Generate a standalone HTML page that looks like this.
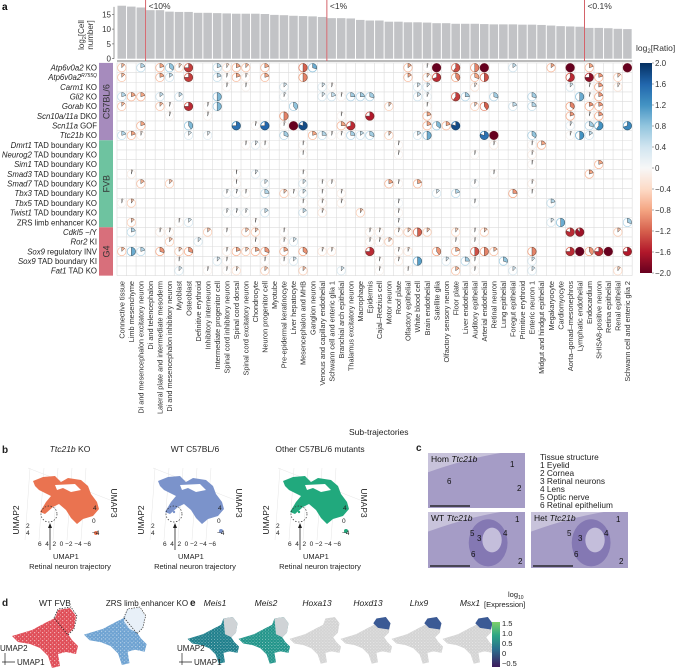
<!DOCTYPE html>
<html><head><meta charset="utf-8">
<style>
html,body{margin:0;padding:0;background:#fff;}
svg{display:block;font-family:"Liberation Sans",Arial,sans-serif;}
</style></head>
<body>
<svg id="fig" width="685" height="670" viewBox="0 0 685 670" xmlns="http://www.w3.org/2000/svg">
<g id="pa"></g>
<g id="pb"></g>
</svg>
<script>
// ---------- DATA ----------
const cellTypes = ["Connective tissue","Limb mesenchyme","Di and mesencephalon excitatory neuron","Di and telencephalon","Lateral plate and intermediate mesoderm","Di and mesencephalon inhibitory neuron","Myoblast","Osteoblast","Definitive erythroid","Inhibitory interneuron","Intermediate progenitor cell","Spinal cord inhibitory neuron","Spinal cord dorsal","Spinal cord excitatory neuron","Chondrocyte","Neuron progenitor cell","Myotube","Pre-epidermal keratinocyte","Liver hepatocyte","Mesencephalon and MHB","Ganglion neuron","Venous and capillary endothelial","Schwann cell and enteric glia 1","Branchial arch epithelial","Thalamus excitatory neuron","Macrophage","Epidermis","Cajal–Retzius cell","Motor neuron","Roof plate","Olfactory epithelial","White blood cell","Brain endothelial","Satellite glia","Olfactory sensory neuron","Floor plate","Liver endothelial","Auditory epithelial","Arterial endothelial","Retinal neuron","Lung epithelial","Foregut epithelial","Primitive erythroid","Enteric neuron 1","Midgut and hindgut epithelial","Megakaryocyte","Cardiomyocyte","Aorta–gonad–mesonephros","Lymphatic endothelial","Endocardium","SHISA8-positive neuron","Retina epithelial","Renal epithelial","Schwann cell and enteric glia 2"];
const cellCounts = [17.9,17.6,17.3,16.4,16.4,15.9,15.8,15.8,15.5,15.5,15.4,15.3,15.2,15.2,15.2,15.1,14.8,14.7,14.5,14.4,14.3,14.1,13.7,13.7,13.6,13.1,12.9,12.9,12.5,12.5,12.3,12.3,12.2,12.0,12.0,11.8,11.8,11.8,11.7,11.6,11.6,11.6,11.5,11.5,11.4,11.2,11.0,10.9,10.8,10.4,10.4,10.3,10.1,10.0];
const countTicks = [0,5,10,15];
const thresholdCols = [3,22,49];
const thresholdLabels = ["<10%","<1%","<0.1%"];
const mutantGenes = ["Atp6v0a2","Atp6v0a2","Carm1","Gli2","Gorab","Scn10a/11a","Scn11a","Ttc21b","Dmrt1","Neurog2","Sim1","Smad3","Smad7","Tbx3","Tbx5","Twist1","","Cdkl5","Ror2","Sox9","Sox9","Fat1"];
const mutantSuffix = [" KO","R755Q"," KO"," KO"," KO"," DKO"," GOF"," KO"," TAD boundary KO"," TAD boundary KO"," TAD boundary KO"," TAD boundary KO"," TAD boundary KO"," TAD boundary KO"," TAD boundary KO"," TAD boundary KO","ZRS limb enhancer KO"," −/Y"," KI"," regulatory INV"," TAD boundary KI"," TAD KO"];
const groups = ["C57BL/6","FVB","G4"];
const groupStart = [0,8,17];
const groupEnd = [8,17,22];
const ratioTicks = [2.0,1.6,1.2,0.8,0.4,0,-0.4,-0.8,-1.2,-1.6,-2.0];
// marks: [row, col, log2 ratio, fraction]
const marks = [
[0,0,-0.7,0.12],[0,2,0.6,0.2],[0,4,-0.8,0.2],[0,5,0.8,0.35],[0,6,-0.5,0.1],[0,7,-1.4,0.75],[0,10,0.6,0.2],[0,11,-0.4,0.08],[0,12,-0.8,0.2],[0,13,-0.7,0.12],[0,15,-0.8,0.2],[0,19,-1.2,0.5],[0,20,1.0,0.3],
[0,30,-0.8,0.15],[0,32,-0.1,0.04],[0,33,-2.0,1],[0,35,-1.3,0.6],[0,37,-1.0,0.5],[0,38,-2.0,1],[0,41,0.5,0.15],[0,45,-0.8,0.15],[0,47,-2.0,1],[0,49,-0.8,0.2],[0,53,-2.0,1],
[1,0,-0.7,0.12],[1,4,-0.8,0.2],[1,5,0.5,0.15],[1,7,-1.4,0.75],[1,10,0.6,0.2],[1,11,-0.1,0.04],[1,12,-0.8,0.2],[1,13,-0.2,0.06],[1,15,-0.8,0.2],[1,19,-1.0,0.5],
[1,30,-0.8,0.15],[1,32,-0.6,0.1],[1,33,-1.5,0.7],[1,35,-1.0,0.4],[1,37,-0.8,0.3],[1,38,-1.3,0.5],[1,47,-1.5,0.6],[1,49,-1.8,0.75],[1,50,-0.9,0.2],[1,52,-0.6,0.12],
[2,11,-0.1,0.05],[2,13,-0.1,0.04],[2,17,0.4,0.12],[2,21,0.4,0.12],[2,22,-0.1,0.05],[2,31,0.4,0.12],[2,32,0.4,0.12],[2,37,-0.3,0.08],[2,47,0.4,0.12],[2,49,-0.1,0.05],[2,50,-0.9,0.2],[2,52,-0.3,0.08],
[3,0,0.6,0.2],[3,1,-0.8,0.2],[3,2,-0.8,0.2],[3,4,0.5,0.15],[3,6,0.5,0.15],[3,10,0.9,0.5],[3,17,0.2,0.06],[3,21,0.4,0.12],[3,22,0.5,0.2],[3,23,-0.1,0.04],[3,24,0.7,0.25],[3,25,0.7,0.25],[3,26,0.7,0.3],[3,31,0.5,0.15],[3,32,0.2,0.06],[3,35,-1.4,0.6],[3,36,0.7,0.25],[3,39,0.7,0.3],[3,43,0.7,0.3],[3,48,1.0,0.5],[3,49,-0.1,0.05],[3,50,-0.9,0.2],
[4,0,-0.7,0.12],[4,4,-0.7,0.12],[4,5,-0.1,0.05],[4,7,-1.5,0.75],[4,9,-0.1,0.05],[4,10,0.9,0.5],[4,18,0.8,0.4],[4,28,-0.6,0.1],[4,32,-0.1,0.04],[4,37,-0.6,0.1],[4,38,-1.2,0.4],[4,41,0.5,0.2],[4,43,0.6,0.25],[4,47,-1.0,0.35],[4,49,-0.9,0.2],[4,50,-0.9,0.2],
[5,5,-0.1,0.05],[5,9,-0.1,0.05],[5,17,-1.0,0.5],[5,23,-0.1,0.04],[5,26,-1.6,0.75],[5,32,-0.8,0.2],[5,47,-0.9,0.2],[5,49,-0.1,0.05],[5,50,-0.9,0.2],
[6,2,-0.8,0.2],[6,7,0.9,0.4],[6,12,1.5,0.75],[6,14,-0.1,0.05],[6,15,1.6,0.75],[6,17,-0.1,0.05],[6,18,-2.0,1],[6,19,1.8,0.8],[6,23,-0.8,0.25],[6,24,-1.5,0.7],[6,32,-0.8,0.2],[6,33,0.9,0.35],[6,34,-0.8,0.2],[6,35,1.8,0.8],[6,47,0.3,0.08],[6,49,0.7,0.3],[6,50,1.2,0.6],[6,53,1.3,0.7],
[7,0,0.6,0.2],[7,1,-0.8,0.2],[7,2,-0.2,0.06],[7,7,0.4,0.12],[7,9,0.3,0.1],[7,17,0.7,0.3],[7,20,-0.8,0.2],[7,21,0.6,0.25],[7,22,-0.1,0.05],[7,23,-0.1,0.05],[7,24,0.7,0.25],[7,25,0.5,0.15],[7,26,0.7,0.3],[7,28,-0.6,0.1],[7,31,0.5,0.15],[7,32,1.0,0.5],[7,38,1.5,0.8],[7,39,-2.0,1],[7,43,0.8,0.35],[7,47,-0.1,0.05],[7,48,1.2,0.5],[7,49,0.5,0.15],
[8,13,-0.1,0.04],[8,14,0.3,0.1],[8,15,-0.1,0.04],[8,19,-0.1,0.04],[8,29,-0.1,0.04],[8,39,-0.2,0.05],[8,43,-0.1,0.04],[8,44,-0.8,0.2],
[9,19,-0.1,0.03],[9,29,-0.1,0.04],[9,37,-0.1,0.04],[9,43,-0.2,0.05],
[10,43,-0.1,0.04],[10,50,-0.8,0.2],
[11,1,-0.2,0.05],[11,12,-0.1,0.03],[11,14,0.3,0.1],[11,19,-0.1,0.04],[11,39,-0.1,0.04],[11,49,-0.8,0.2],
[12,2,-0.7,0.15],[12,5,-0.6,0.12],[12,12,-0.1,0.03],[12,15,0.4,0.12],[12,19,0.4,0.12],[12,21,-0.1,0.04],[12,22,-0.2,0.05],[12,28,-0.8,0.2],[12,29,-0.1,0.04],[12,31,-0.8,0.2],[12,37,0.2,0.05],[12,43,-0.2,0.05],
[13,11,0.2,0.06],[13,12,0.2,0.06],[13,13,-0.1,0.04],[13,15,0.6,0.25],[13,17,-0.6,0.12],[13,18,-0.1,0.04],[13,19,0.4,0.12],[13,21,-0.1,0.04],[13,23,-0.2,0.05],[13,33,0.4,0.12],[13,35,0.6,0.2],[13,41,-0.9,0.25],[13,43,-0.1,0.04],
[14,0,-0.1,0.05],[14,1,-0.6,0.1],[14,19,-0.1,0.04],[14,21,-0.2,0.05],[14,23,-0.2,0.05],[14,29,0.1,0.04],[14,37,0.1,0.04],[14,45,0.6,0.2],
[15,11,0.2,0.06],[15,12,0.2,0.06],[15,13,0.2,0.06],[15,15,0.5,0.15],[15,19,0.5,0.15],[15,21,-0.3,0.06],[15,25,-0.6,0.1],[15,29,-0.1,0.04],
[16,1,-0.6,0.12],[16,6,-0.1,0.04],[16,7,0.4,0.12],[16,14,-0.1,0.04],[16,29,0.1,0.04],[16,45,0.4,0.12],[16,46,1.0,0.5],[16,53,0.7,0.3],
[17,1,0.6,0.2],[17,4,-0.2,0.05],[17,5,-0.2,0.05],[17,9,-0.6,0.12],[17,11,-0.1,0.04],[17,13,-0.6,0.12],[17,14,-0.6,0.12],[17,17,-0.1,0.04],[17,26,-0.2,0.05],[17,27,-0.2,0.05],[17,29,-0.3,0.06],[17,30,-0.6,0.12],[17,31,-1.2,0.5],[17,32,-0.6,0.12],[17,35,-0.5,0.1],[17,37,-0.1,0.04],[17,38,-0.6,0.12],[17,47,-1.5,0.8],[17,48,-1.7,0.9],[17,52,-0.6,0.12],
[18,5,-0.6,0.12],[18,8,0.4,0.12],[18,14,-0.1,0.04],[18,17,-0.2,0.05],[18,18,0.4,0.12],[18,26,-0.2,0.05],[18,27,-0.2,0.05],[18,28,-0.6,0.12],[18,35,-0.1,0.04],[18,37,-0.1,0.04],
[19,0,-0.7,0.12],[19,1,1.0,0.5],[19,2,0.6,0.2],[19,4,-0.9,0.3],[19,6,-0.6,0.12],[19,7,-0.9,0.3],[19,11,-0.2,0.05],[19,12,-0.8,0.2],[19,13,-0.6,0.12],[19,14,-0.8,0.2],[19,15,-0.9,0.3],[19,17,-0.8,0.2],[19,19,-0.9,0.35],[19,21,-0.3,0.06],[19,22,-0.3,0.06],[19,26,-1.5,0.75],[19,29,-0.2,0.05],[19,30,-0.3,0.06],[19,33,-0.9,0.4],[19,35,-0.8,0.2],[19,37,-1.3,0.5],[19,38,-1.0,0.5],[19,39,-0.7,0.15],[19,43,-1.0,0.5],[19,47,-1.5,0.75],[19,48,-2.0,1],[19,49,-0.9,0.4],[19,50,-1.5,0.75],[19,51,-2.0,1],[19,53,-1.6,0.75],
[20,6,-0.1,0.04],[20,10,0.4,0.12],[20,11,-0.1,0.04],[20,15,-0.1,0.04],[20,17,-0.1,0.04],[20,18,0.4,0.12],[20,27,-0.1,0.04],[20,29,-0.2,0.05],[20,31,1.1,0.5],[20,34,0.4,0.12],[20,36,0.7,0.25],[20,37,-0.1,0.04],[20,40,0.8,0.3],[20,43,0.4,0.12],
[21,6,0.4,0.12],[21,9,-0.1,0.04],[21,11,-0.1,0.04],[21,12,-0.4,0.08],[21,15,-0.6,0.12],[21,19,-0.6,0.12],[21,23,0.4,0.12],[21,27,-0.1,0.04],[21,30,-0.1,0.04],[21,35,-0.7,0.15],[21,37,-0.1,0.04],[21,41,0.4,0.12],[21,43,0.4,0.12],[21,52,-0.5,0.1]
];
const exprTicks = [1.5,1.0,0.5,0,-0.5];
const exprGenes = ["Meis1","Meis2","Hoxa13","Hoxd13","Lhx9","Msx1"];
const legendItems = ["Tissue structure","1 Eyelid","2 Cornea","3 Retinal neurons","4 Lens","5 Optic nerve","6 Retinal epithelium"];

// ---------- HELPERS ----------
const NS="http://www.w3.org/2000/svg";
function mk(tag,attrs,parent){const e=document.createElementNS(NS,tag);for(const k in attrs)e.setAttribute(k,attrs[k]);(parent||document.getElementById('pa')).appendChild(e);return e;}
const stops=[[-2,[103,0,31]],[-1.6,[178,24,43]],[-1.2,[214,96,77]],[-0.8,[244,165,130]],[-0.4,[253,219,199]],[0,[247,247,247]],[0.4,[209,229,240]],[0.8,[146,197,222]],[1.2,[67,147,195]],[1.6,[33,102,172]],[2,[5,48,97]]];
function rdbu(v){v=Math.max(-2,Math.min(2,v));for(let i=0;i<stops.length-1;i++){const a=stops[i],b=stops[i+1];if(v<=b[0]){const t=(v-a[0])/(b[0]-a[0]);const c=a[1].map((x,j)=>Math.round(x+(b[1][j]-x)*t));return `rgb(${c})`;}}return 'rgb(5,48,97)';}

// ---------- AXES ----------
const gx0=117, colW=9.54, gy0=62.9, rowH=9.67;
const nC=cellTypes.length, nR=mutantGenes.length;
const xC=c=>gx0+colW*(c+0.5);
const yR=r=>gy0+rowH*(r+0.5);
const yBar=v=>58.7-v*2.96;
const yRatio=v=>63+(2-v)/4*210;

const pa=document.getElementById('pa');
mk('text',{x:2,y:10,'font-size':10,'font-weight':'bold'}).textContent='a';

cellCounts.forEach((v,i)=>{
  const r=mk('rect',{x:gx0+colW*i+0.5,y:yBar(v),width:colW-1,height:yBar(0)-yBar(v),fill:'#c2c3c6'});
  
  
});
mk('line',{x1:gx0,x2:gx0+colW*nC,y1:61,y2:61,stroke:'#777','stroke-width':1});
mk('line',{x1:gx0-3,x2:gx0-3,y1:yBar(0),y2:yBar(17.5),stroke:'#555','stroke-width':0.6});
countTicks.forEach(t=>{
  mk('line',{x1:gx0-5,x2:gx0-3,y1:yBar(t),y2:yBar(t),stroke:'#555','stroke-width':0.6});
  const tx=mk('text',{x:gx0-6,y:yBar(t)+3,'font-size':8,'text-anchor':'end',fill:'#333'});tx.textContent=t;
  
  
});
{const t=mk('text',{transform:'translate(84,35) rotate(-90)','font-size':8,'text-anchor':'middle',fill:'#333'});
 t.innerHTML='log<tspan font-size="5.5" dy="2">2</tspan><tspan dy="-2">[Cell</tspan>';
 
 const t2=mk('text',{transform:'translate(93,35) rotate(-90)','font-size':8,'text-anchor':'middle',fill:'#333'});t2.textContent='number]';}
thresholdCols.forEach((c,i)=>{
  const x=gx0+colW*c;
  const l=mk('line',{x1:x,x2:x,y1:0,y2:61,stroke:'#d0525a','stroke-width':0.9});
  
  const t=mk('text',{x:x+3,y:9,'font-size':8.5,fill:'#333'});t.textContent=thresholdLabels[i];
  
});

const gridG=mk('g',{stroke:'#dcdcdc','stroke-width':0.6});
for(let c=0;c<=nC;c++) mk('line',{x1:gx0+colW*c,x2:gx0+colW*c,y1:gy0,y2:gy0+rowH*nR},gridG);
for(let r=0;r<=nR;r++) mk('line',{x1:gx0,x2:gx0+colW*nC,y1:gy0+rowH*r,y2:gy0+rowH*r},gridG);

const gcol=['#a68bbd','#6ec3a0','#d86f7b'];
groups.forEach((g,i)=>{
  const y0=gy0+rowH*groupStart[i],y1=gy0+rowH*groupEnd[i];
  const r=mk('rect',{x:99,y:y0,width:14,height:y1-y0,fill:gcol[i]});
  
  const t=mk('text',{transform:`translate(109.5,${(y0+y1)/2}) rotate(-90)`,'font-size':9,'text-anchor':'middle',fill:'#333'});t.textContent=g;
});
mutantGenes.forEach((g,r)=>{
  const t=mk('text',{x:97,y:yR(r)+2.8,'font-size':7.8,'text-anchor':'end',fill:'#222'});
  if(mutantSuffix[r]==='R755Q') t.innerHTML=`<tspan font-style="italic">${g}</tspan><tspan font-size="5" dy="-3" font-style="italic">R755Q</tspan>`;
  else if(g==='') t.textContent=mutantSuffix[r];
  else t.innerHTML=`<tspan font-style="italic">${g}</tspan>${mutantSuffix[r]}`;
  
});
cellTypes.forEach((c,i)=>{
  const t=mk('text',{transform:`translate(${xC(i)+2.7},281) rotate(-90)`,'font-size':7.3,'text-anchor':'end',fill:'#333'});t.textContent=c;
  
});
const R=4.2;
marks.forEach(m=>{
  const [r,c,v,f]=m;const cx=xC(c),cy=yR(r),col=rdbu(v);
  const g=mk('g',{});
  
  
  mk('circle',{cx,cy,r:R,fill:'#fff',stroke:rdbu(v*0.8),'stroke-width':0.8},g);
  if(f>=0.999) mk('circle',{cx,cy,r:R,fill:col,stroke:'#333','stroke-width':0.3},g);
  else{
    const a=f*2*Math.PI, ex=cx+R*Math.sin(a), ey=cy-R*Math.cos(a);
    mk('path',{d:`M${cx},${cy}L${cx},${cy-R}A${R},${R} 0 ${f>0.5?1:0} 1 ${ex},${ey}Z`,fill:col,stroke:'#333','stroke-width':0.4},g);
  }
});
{const defs=mk('defs',{});const lg=mk('linearGradient',{id:'rg',x1:0,y1:0,x2:0,y2:1},defs);
 for(let i=0;i<=20;i++){const v=2-i*0.2;mk('stop',{offset:i/20,'stop-color':rdbu(v)},lg);}
 const r=mk('rect',{x:640,y:63,width:12,height:210,fill:'url(#rg)'});
 
 ratioTicks.forEach(t=>{mk('line',{x1:652,x2:654,y1:yRatio(t),y2:yRatio(t),stroke:'#555','stroke-width':0.5});
   const tx=mk('text',{x:655,y:yRatio(t)+3,'font-size':8,fill:'#333'});tx.textContent=(t<0?'−':'')+(t===0?'0':Math.abs(t).toFixed(1));});
 const tt=mk('text',{x:636,y:51,'font-size':8.5,fill:'#333'});tt.innerHTML='log<tspan font-size="6" dy="2">2</tspan><tspan dy="-2">[Ratio]</tspan>';
 }

// ---------- PANEL b ----------
const pb=document.getElementById('pb');
function T(x,y,s,fs,opt){const t=mk('text',Object.assign({x,y,'font-size':fs,fill:'#222'},opt||{}),pb);t.innerHTML=s;return t;}
T(2,453,'b',10,{'font-weight':'bold'});
T(349,435,'Sub-trajectories',8.5);
const blobPath='M0,7 L10,3 L22,2 L28,8 L35,4 L48,6 L55,12 L58,20 L64,28 L66,35 L60,42 L50,45 L44,50 L38,44 L33,36 L26,30 L20,33 L12,40 L7,38 L13,28 L18,22 L6,16 L2,12 Z';
const bcol=['#ea7350','#7b93cb','#21a97d'];
const btitle=['<tspan font-style="italic">Ttc21b</tspan> KO','WT C57BL/6','Other C57BL/6 mutants'];
[0,1,2].forEach(i=>{
  const ox=i*125;
  T(ox+70,452,btitle[i],8.5,{'text-anchor':'middle'});
  const g=mk('g',{stroke:'#e6e6e6','stroke-width':0.5,fill:'none'},pb);
  for(let k=0;k<5;k++){mk('line',{x1:ox+30+k*14,y1:468,x2:ox+25+k*14,y2:540},g);}
  mk('line',{x1:ox+28,y1:468,x2:ox+110,y2:500},g);
  const bp=mk('path',{d:blobPath,fill:bcol[i],transform:`translate(${ox+33},${474})`},pb);
  
  mk('path',{d:'M22,11 L42,10 L48,16 L38,18 L30,14 L24,16Z',fill:'#fff',transform:`translate(${ox+33},${474})`},pb);
  mk('circle',{cx:ox+96,cy:i===0?533:531,r:2,fill:bcol[i]},pb);
  mk('circle',{cx:ox+49,cy:514,r:8,fill:'none',stroke:'#333','stroke-width':0.7,'stroke-dasharray':'1.5,1.5'},pb);
  if(i>0) mk('circle',{cx:ox+49,cy:512,r:1.2,fill:bcol[i]},pb);
  mk('line',{x1:ox+50,y1:550,x2:ox+50,y2:526,stroke:'#222','stroke-width':0.8},pb);
  mk('path',{d:`M${ox+48},${528}L${ox+50},${523}L${ox+52},${528}Z`,fill:'#222'},pb);
  T(ox+19,520,'UMAP2',8.5,{transform:`rotate(-90 ${ox+19} 520)`,'text-anchor':'middle'});
  T(ox+111,503,'UMAP3',8.5,{transform:`rotate(90 ${ox+111} 503)`,'text-anchor':'middle'});
  T(ox+38,546,'6 &#160;4 &#160;2 &#160;0 −2 −4 −6',6.5);
  T(ox+93,510,'4',6.5);T(ox+92,523,'0',6.5);T(ox+92,535,'−4',6.5);
  T(ox+26,528,'2',6.5);T(ox+26,535,'4',6.5);
  T(ox+53,559,'UMAP1',7.5);
  T(ox+70,569,'Retinal neuron trajectory',7.5,{'text-anchor':'middle'});
});

// ---------- PANEL c ----------
T(416,451,'c',10,{'font-weight':'bold'});
function histo(x,y,w,h,lab,eye){
  const g=mk('g',{},pb);
  mk('rect',{x,y,width:w,height:h,fill:'#c8c3db'},g);
  mk('path',{d:`M${x},${y+h*0.35} Q${x+w*0.4},${y+h*0.1} ${x+w*0.75},${y} L${x+w},${y} L${x+w},${y+h} L${x},${y+h}Z`,fill:'#a59cc6'},g);
  if(eye){mk('ellipse',{cx:x+w*0.62,cy:y+h*0.55,rx:w*0.2,ry:h*0.42,fill:'#8478b3'},g);
          mk('ellipse',{cx:x+w*0.66,cy:y+h*0.5,rx:w*0.1,ry:h*0.22,fill:'#c4bedb'},g);}
  mk('line',{x1:x+2,x2:x+42,y1:y+h-2,y2:y+h-2,stroke:'#111','stroke-width':1.3},g);
  T(x+3,y+9,lab,8.5,{fill:'#111'});
}
histo(428,453,97,55,'Hom <tspan font-style="italic">Ttc21b</tspan>',false);
histo(428,512,97,56,'WT <tspan font-style="italic">Ttc21b</tspan>',true);
histo(531,512,97,56,'Het <tspan font-style="italic">Ttc21b</tspan>',true);
[[510,467,'1'],[517,491,'2'],[447,484,'6'],[515,522,'1'],[518,564,'2'],[470,536,'5'],[477,541,'3'],[503,536,'4'],[471,557,'6'],[616,522,'1'],[619,564,'2'],[567,536,'5'],[578,541,'3'],[604,536,'4'],[574,557,'6']].forEach(a=>T(a[0],a[1],a[2],8,{fill:'#111'}));
legendItems.forEach((s,i)=>{const t=T(540,460+i*8,s,8.3);});

// ---------- PANEL d / e ----------
const star='M2,28 L22,22 L35,15 L45,10 L48,2 L60,0 L66,8 L64,20 L58,26 L62,32 L68,38 L66,46 L56,44 L48,46 L50,58 L42,60 L38,48 L30,40 L20,36 L8,34 Z';
{const defs=mk('defs',{},pb);const p=mk('pattern',{id:'speck',width:4,height:4,patternUnits:'userSpaceOnUse'},defs);
 mk('rect',{x:0,y:0,width:1.2,height:1.2,fill:'#fff','fill-opacity':0.55},p);mk('rect',{x:2,y:2.4,width:1,height:1,fill:'#fff','fill-opacity':0.45},p);}
T(2,606,'d',10,{'font-weight':'bold'});
T(55,606,'WT FVB',8.5,{'text-anchor':'middle'});
T(147,606,'ZRS limb enhancer KO',8,{'text-anchor':'middle'});
function starAt(x,y,s,fill,name){const p=mk('path',{d:star,fill,transform:`translate(${x},${y}) scale(${s})`},pb);mk('path',{d:star,fill:'url(#speck)',transform:`translate(${x},${y}) scale(${s})`},pb);return p;}
starAt(10,608,1,'#e0505a','umap-wt-fvb');
starAt(82,608,0.95,'#6fa3d2','umap-zrs-ko');
mk('path',{d:'M48,2 L60,0 L66,8 L64,20 L58,26 L50,22 L44,14Z',fill:'#e8f0f8',transform:'translate(82,608) scale(0.95)'},pb);
mk('path',{d:'M44,10 L48,1 L61,-1 L67,8 L64,21 L58,27 Z',fill:'none',stroke:'#222','stroke-width':0.7,'stroke-dasharray':'1.5,1.2',transform:'translate(10,608)'},pb);
mk('path',{d:'M44,10 L48,1 L61,-1 L67,8 L64,21 L58,27 Z',fill:'none',stroke:'#222','stroke-width':0.7,'stroke-dasharray':'1.5,1.2',transform:'translate(82,608) scale(0.95)'},pb);
function umapAxes(x,y){mk('path',{d:`M${x},${y}L${x},${y-12}M${x-3},${y-3}L${x+10},${y-3}`,stroke:'#222','stroke-width':0.7,fill:'none'},pb);T(x-5,y-14,'UMAP2',8);T(x+12,y,'UMAP1',8);}
umapAxes(5,665);
T(190,606,'e',10,{'font-weight':'bold'});
const eCol=['#1f7f8c','#22958a','#d8d8d8','#d8d8d8','#d8d8d8','#d8d8d8'];
exprGenes.forEach((g,i)=>{
  const x=186+i*51;
  T(x+29,606,g,8.5,{'text-anchor':'middle','font-style':'italic'});
  starAt(x,617,0.78,i<2?eCol[i]:'#d4d4d4','umap-expression-'+g.toLowerCase());
  if(i<2) mk('path',{d:'M48,2 L60,0 L66,8 L64,20 L58,26 L50,22 Z',fill:'#cfd3d6',transform:`translate(${x},617) scale(0.78)`},pb);
  if(i>=3) mk('path',{d:'M44,8 L48,2 L60,0 L66,8 L64,16 L50,14 Z',fill:'#3b5a95',transform:`translate(${x},617) scale(0.78)`},pb);
});
umapAxes(182,665);
{const defs=mk('defs',{},pb);const lg=mk('linearGradient',{id:'vg',x1:0,y1:0,x2:0,y2:1},defs);
 [['0','#7ed06a'],['0.3','#2ca585'],['0.6','#2b6f8e'],['1','#3d1a5c']].forEach(s=>mk('stop',{offset:s[0],'stop-color':s[1]},lg));
 const r=mk('rect',{x:492,y:622,width:8,height:45,fill:'url(#vg)'},pb);
 exprTicks.forEach((t,i)=>T(502,626+i*10,(t<0?'−':'')+(t===0?'0':Math.abs(t).toFixed(1)),7.5));
 T(508,597,'log<tspan font-size="5" dy="2">10</tspan>',7.5);
 T(484,607,'[Expression]',7.5);}
</script>
</body></html>
